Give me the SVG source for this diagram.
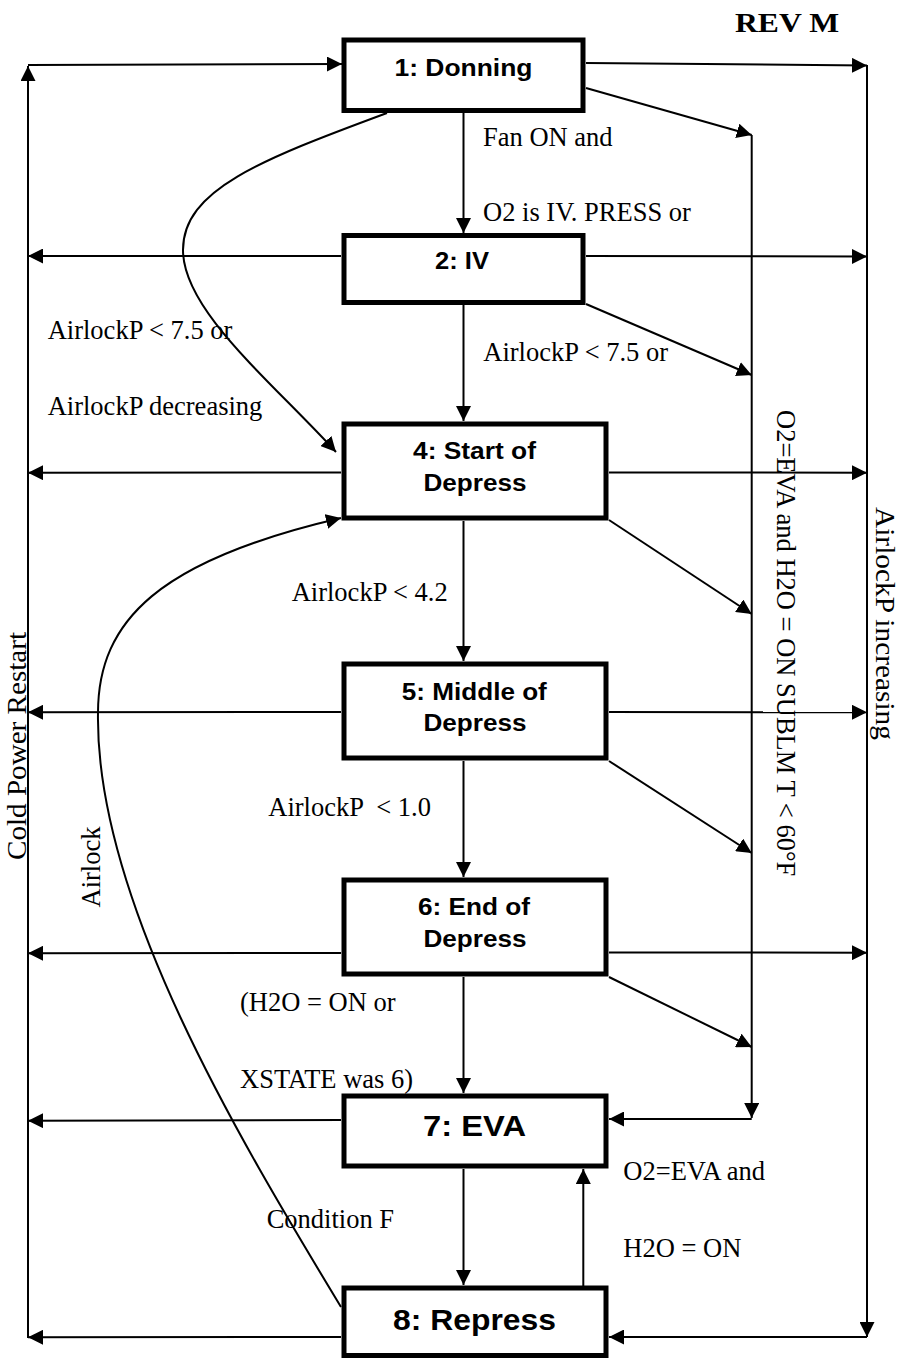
<svg xmlns="http://www.w3.org/2000/svg" width="901" height="1360" viewBox="0 0 901 1360">
<style>
.box{fill:#fff;stroke:#000;stroke-width:5}
.bl{font-family:"Liberation Sans",Arial,sans-serif;font-weight:bold;font-size:23px;text-anchor:middle;fill:#000}
.bl2{font-family:"Liberation Sans",Arial,sans-serif;font-weight:bold;font-size:30px;text-anchor:middle;fill:#000}
.lb{font-family:"Liberation Serif","Times New Roman",serif;font-size:26.5px;fill:#000}
.rot{font-family:"Liberation Serif","Times New Roman",serif;font-size:28px;fill:#000}
.c{fill:none;stroke:#000;stroke-width:2}
</style>
<defs>
<marker id="ah" viewBox="0 0 15 15" refX="15" refY="7.5" markerWidth="15" markerHeight="15" markerUnits="userSpaceOnUse" orient="auto">
<path d="M0,0 L15,7.5 L0,15 z" fill="#000"/>
</marker>
</defs>
<g id="connectors">
<path class="c" d="M28,1338 L28,66" marker-end="url(#ah)"/>
<path class="c" d="M28,65 L342,64" marker-end="url(#ah)"/>
<path class="c" d="M867,65 L867,1337" marker-end="url(#ah)"/>
<path class="c" d="M867,1337 L609,1337" marker-end="url(#ah)"/>
<path class="c" d="M751.7,135 L751.7,1118" marker-end="url(#ah)"/>
<path class="c" d="M751.7,1119 L609,1119" marker-end="url(#ah)"/>
<path class="c" d="M586,63 L867,65.5" marker-end="url(#ah)"/>
<path class="c" d="M586,256 L867,256.5" marker-end="url(#ah)"/>
<path class="c" d="M609,472.5 L867,472.7" marker-end="url(#ah)"/>
<path class="c" d="M609,712 L867,712.3" marker-end="url(#ah)"/>
<path class="c" d="M609,952.5 L867,952.7" marker-end="url(#ah)"/>
<path class="c" d="M341,256 L28,256" marker-end="url(#ah)"/>
<path class="c" d="M341,472.5 L28,472.7" marker-end="url(#ah)"/>
<path class="c" d="M341,712 L28,712.3" marker-end="url(#ah)"/>
<path class="c" d="M341,953 L28,953.3" marker-end="url(#ah)"/>
<path class="c" d="M341,1120 L28,1120.7" marker-end="url(#ah)"/>
<path class="c" d="M341,1337 L28,1337.3" marker-end="url(#ah)"/>
<path class="c" d="M463.5,113 L463.5,233" marker-end="url(#ah)"/>
<path class="c" d="M463.5,305 L463.5,421" marker-end="url(#ah)"/>
<path class="c" d="M463.5,521 L463.5,661" marker-end="url(#ah)"/>
<path class="c" d="M463.5,761 L463.5,877" marker-end="url(#ah)"/>
<path class="c" d="M463.5,977 L463.5,1093" marker-end="url(#ah)"/>
<path class="c" d="M463.5,1169 L463.5,1285" marker-end="url(#ah)"/>
<path class="c" d="M583.3,1286 L583.3,1169" marker-end="url(#ah)"/>
<path class="c" d="M586,88 L751.7,135" marker-end="url(#ah)"/>
<path class="c" d="M586,304 L751.7,375" marker-end="url(#ah)"/>
<path class="c" d="M609,520 L751.7,614" marker-end="url(#ah)"/>
<path class="c" d="M609,761 L751.7,853" marker-end="url(#ah)"/>
<path class="c" d="M609,977 L751.7,1047" marker-end="url(#ah)"/>
<path class="c" d="M387,113 C260,160 183,190 183,250 C183,310 270,380 336,452" marker-end="url(#ah)"/>
<path class="c" d="M341,1307 C240,1140 95,900 98,713 C98,620 160,560 341,518" marker-end="url(#ah)"/>
</g>
<g id="labels">
<text class="lb" x="483" y="146">Fan ON and</text>
<text class="lb" x="483" y="221">O2 is IV. PRESS or</text>
<text class="lb" x="47.7" y="339.3">AirlockP &lt; 7.5 or</text>
<text class="lb" x="47.7" y="415">AirlockP decreasing</text>
<text class="lb" x="483.3" y="360.7">AirlockP &lt; 7.5 or</text>
<text class="lb" x="291.7" y="601">AirlockP &lt; 4.2</text>
<text class="lb" x="268.3" y="816" xml:space="preserve">AirlockP  &lt; 1.0</text>
<text class="lb" x="240" y="1010.7">(H2O = ON or</text>
<text class="lb" x="240" y="1088.3">XSTATE was 6)</text>
<text class="lb" x="266.7" y="1228.3">Condition F</text>
<text class="lb" x="623.3" y="1180">O2=EVA and</text>
<text class="lb" x="623.3" y="1256.7">H2O = ON</text>
<text x="735" y="32" style="font-family:'Liberation Serif','Times New Roman',serif;font-weight:bold;font-size:28px" textLength="104" lengthAdjust="spacingAndGlyphs">REV M</text>
<text class="rot" transform="translate(26,746) rotate(-90)" text-anchor="middle" textLength="228" lengthAdjust="spacingAndGlyphs">Cold Power Restart</text>
<text class="lb" transform="translate(100,867) rotate(-90)" text-anchor="middle">Airlock</text>
<text class="lb" transform="translate(777,410) rotate(90)">O2=EVA and H2O = ON SUBLM T &lt; 60°F</text>
<text class="rot" transform="translate(876,507) rotate(90)" textLength="233" lengthAdjust="spacingAndGlyphs">AirlockP increasing</text>
</g>
<g id="node1">
<rect class="box" x="344" y="40" width="239" height="70.5"/>
<text class="bl" x="463.5" y="76" textLength="138" lengthAdjust="spacingAndGlyphs">1: Donning</text>
</g>
<g id="node2">
<rect class="box" x="344" y="235.5" width="239" height="67"/>
<text class="bl" x="462" y="269" textLength="54" lengthAdjust="spacingAndGlyphs">2: IV</text>
</g>
<g id="node4">
<rect class="box" x="344" y="424" width="262" height="94"/>
<text class="bl" x="474.5" y="459" textLength="123" lengthAdjust="spacingAndGlyphs">4: Start of</text>
<text class="bl" x="475" y="491" textLength="103" lengthAdjust="spacingAndGlyphs">Depress</text>
</g>
<g id="node5">
<rect class="box" x="344" y="664" width="262" height="94"/>
<text class="bl" x="474.3" y="700" textLength="145" lengthAdjust="spacingAndGlyphs">5: Middle of</text>
<text class="bl" x="475" y="731" textLength="103" lengthAdjust="spacingAndGlyphs">Depress</text>
</g>
<g id="node6">
<rect class="box" x="344" y="880" width="262" height="94"/>
<text class="bl" x="474" y="915" textLength="112" lengthAdjust="spacingAndGlyphs">6: End of</text>
<text class="bl" x="475" y="947" textLength="103" lengthAdjust="spacingAndGlyphs">Depress</text>
</g>
<g id="node7">
<rect class="box" x="344" y="1096" width="262" height="70"/>
<text class="bl2" x="474.5" y="1136" textLength="103" lengthAdjust="spacingAndGlyphs">7: EVA</text>
</g>
<g id="node8">
<rect class="box" x="344" y="1288" width="262" height="67.5"/>
<text class="bl2" x="474.5" y="1330" textLength="163" lengthAdjust="spacingAndGlyphs">8: Repress</text>
</g>
</svg>
